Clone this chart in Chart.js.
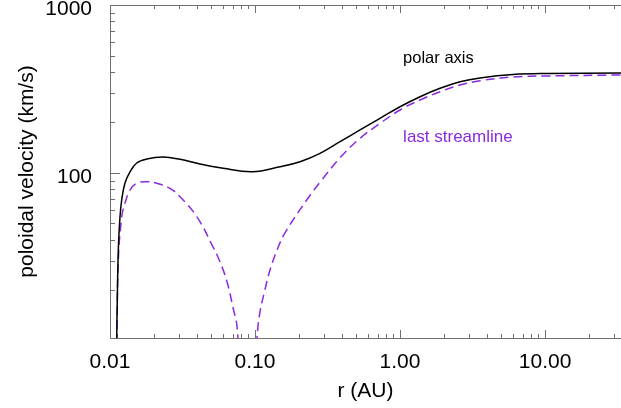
<!DOCTYPE html>
<html>
<head>
<meta charset="utf-8">
<title>Velocidade poloidal</title>
<script src="https://cdn.jsdelivr.net/npm/chart.js@4/dist/chart.umd.min.js"></script>
<style>
  html, body { margin: 0; padding: 0; background: #fff; overflow: hidden; }
  canvas { display: block; }
</style>
</head>
<body>
<canvas id="grafico" width="621" height="408"></canvas>
<script>
// Dados (r em AU, velocidade em km/s)
const rEixoPolar = [0.01112, 0.01117, 0.01141, 0.01172, 0.01204, 0.01269, 0.01374, 0.01528, 0.01791, 0.0232, 0.0304, 0.04175, 0.0602, 0.096, 0.1487, 0.2043, 0.2807, 0.3857, 0.5298, 0.7279, 1.0, 1.3738, 1.887, 2.593, 3.562, 6.017, 10.32, 33.4];
const vEixoPolar = [9, 13.3, 34.7, 54.6, 69, 87.1, 101.3, 114.6, 121.0, 124.3, 120.5, 113, 106.5, 101.6, 108.9, 116.6, 130.8, 153.4, 180.4, 211.4, 247.8, 284.3, 319.2, 349.3, 368, 385.5, 390.9, 393.6];

const rUltimaLinha = [0.01112, 0.01117, 0.01141, 0.01204, 0.01269, 0.01374, 0.01528, 0.01791, 0.0210, 0.02594, 0.0304, 0.0398, 0.0513, 0.0574, 0.0641, 0.0705, 0.0752, 0.089, 0.1032, 0.108, 0.117, 0.127, 0.142, 0.161, 0.2274, 0.2807, 0.3857, 0.5298, 0.7279, 1.0, 1.3738, 1.887, 2.593, 3.562, 6.017, 10.32, 33.4];
const vUltimaLinha = [8, 10.8, 30, 54.6, 66.2, 79.1, 86.7, 88.7, 86.7, 80.9, 72.1, 54.7, 36.3, 29.5, 22.5, 15.8, 12.1, 1.5, 10.4, 14.7, 20.1, 26.5, 34.8, 44, 69, 88, 123, 160.7, 197.4, 237, 271.8, 304.5, 333.9, 354, 372.6, 378, 383];

// Ticks dos eixos
const ticksX = [0.01, 0.02, 0.03, 0.04, 0.05, 0.06, 0.07, 0.08, 0.09, 0.1, 0.2, 0.3, 0.4, 0.5, 0.6, 0.7, 0.8, 0.9, 1, 2, 3, 4, 5, 6, 7, 8, 9, 10, 20, 30];
const ticksXMaiores = [0.01, 0.1, 1, 10];
const ticksY = [20, 30, 40, 50, 60, 70, 80, 90, 100, 200, 300, 400, 500, 600, 700, 800, 900, 1000];
const ticksYMaiores = [100, 1000];

const rotulos = { polar: 'polar axis', ultima: 'last streamline' };
const titulos = { x: 'r (AU)', y: 'poloidal velocity (km/s)' };

const roxo = '#8a2be2';
const fonte = '"Liberation Sans", Arial, Helvetica, sans-serif';

function montarPontos(rs, vs) {
  return rs.map((r, i) => ({ x: r, y: vs[i] }));
}

function ehMaior(lista, v) {
  return lista.some(m => Math.abs(m - v) / m < 1e-6);
}

// Desenha a moldura e os ticks para dentro, estilo IDL
const eixosIDL = {
  id: 'eixosIDL',
  afterDatasetsDraw(chart) {
    const { ctx, chartArea: a, scales: { x, y } } = chart;
    ctx.save();
    ctx.strokeStyle = '#707070';
    ctx.lineWidth = 1;
    ctx.beginPath();
    ctx.moveTo(a.right, a.top + 0.5);
    ctx.lineTo(a.left + 0.5, a.top + 0.5);
    ctx.lineTo(a.left + 0.5, a.bottom + 0.5);
    ctx.lineTo(a.right, a.bottom + 0.5);

    ticksX.forEach(v => {
      const px = Math.round(x.getPixelForValue(v)) + 0.5;
      if (px < a.left || px > a.right) return;
      const len = ehMaior(ticksXMaiores, v) ? 8 : 4;
      ctx.moveTo(px, a.bottom);
      ctx.lineTo(px, a.bottom - len);
      ctx.moveTo(px, a.top);
      ctx.lineTo(px, a.top + len);
    });

    ticksY.forEach(v => {
      const py = Math.round(y.getPixelForValue(v)) + 0.5;
      if (py < a.top || py > a.bottom) return;
      const len = ehMaior(ticksYMaiores, v) ? 10 : 5;
      ctx.moveTo(a.left, py);
      ctx.lineTo(a.left + len, py);
    });
    ctx.stroke();

    // Rótulos das curvas
    ctx.textBaseline = 'middle';
    ctx.textAlign = 'left';
    ctx.fillStyle = '#000';
    ctx.font = '16.5px ' + fonte;
    ctx.fillText(rotulos.polar, x.getPixelForValue(1.05), y.getPixelForValue(480));
    ctx.fillStyle = roxo;
    ctx.font = '17px ' + fonte;
    ctx.fillText(rotulos.ultima, x.getPixelForValue(1.05), y.getPixelForValue(163));
    ctx.restore();
  }
};

function criarGrafico() {
  const ctx = document.getElementById('grafico').getContext('2d');

  new Chart(ctx, {
    type: 'line',
    data: {
      datasets: [
        {
          label: rotulos.polar,
          data: montarPontos(rEixoPolar, vEixoPolar),
          borderColor: '#000',
          borderWidth: 1.5,
          pointRadius: 0,
          tension: 0.4,
          fill: false
        },
        {
          label: rotulos.ultima,
          data: montarPontos(rUltimaLinha, vUltimaLinha),
          borderColor: roxo,
          borderWidth: 1.5,
          borderDash: [9, 5],
          pointRadius: 0,
          tension: 0.4,
          fill: false
        }
      ]
    },
    options: {
      responsive: false,
      animation: false,
      devicePixelRatio: 1,
      layout: { padding: { top: 5, right: 0, left: 0, bottom: 0 } },
      plugins: {
        legend: { display: false },
        tooltip: { enabled: false }
      },
      scales: {
        x: {
          type: 'logarithmic',
          min: 0.01,
          max: 33.4,
          grid: { display: false },
          border: { display: false },
          afterBuildTicks: scale => {
            scale.ticks = ticksX.map(v => ({ value: v, major: ehMaior(ticksXMaiores, v) }));
          },
          afterFit: scale => {
            scale.height = 70;
            scale.paddingLeft = 0;
            scale.paddingRight = 0;
          },
          ticks: {
            autoSkip: false,
            maxRotation: 0,
            padding: 4,
            color: '#000',
            font: { family: fonte, size: 21 },
            callback: v => ehMaior(ticksXMaiores, v) ? Number(v).toFixed(2) : ''
          },
          title: {
            display: true,
            text: titulos.x,
            color: '#000',
            font: { family: fonte, size: 21 },
            padding: { top: 0, bottom: 4 }
          }
        },
        y: {
          type: 'logarithmic',
          min: 10.4,
          max: 1000,
          grid: { display: false },
          border: { display: false },
          afterBuildTicks: scale => {
            scale.ticks = ticksY.map(v => ({ value: v, major: ehMaior(ticksYMaiores, v) }));
          },
          afterFit: scale => {
            scale.width = 110;
            scale.paddingTop = 0;
            scale.paddingBottom = 0;
          },
          ticks: {
            autoSkip: false,
            padding: 10,
            labelOffset: 4,
            color: '#000',
            font: { family: fonte, size: 21 },
            callback: v => ehMaior(ticksYMaiores, v) ? String(Math.round(v)) : ''
          },
          title: {
            display: true,
            text: titulos.y,
            color: '#000',
            font: { family: fonte, size: 21 },
            padding: { top: 15, bottom: 0 }
          }
        }
      }
    },
    plugins: [eixosIDL]
  });
}

window.addEventListener('load', criarGrafico);
</script>
</body>
</html>
